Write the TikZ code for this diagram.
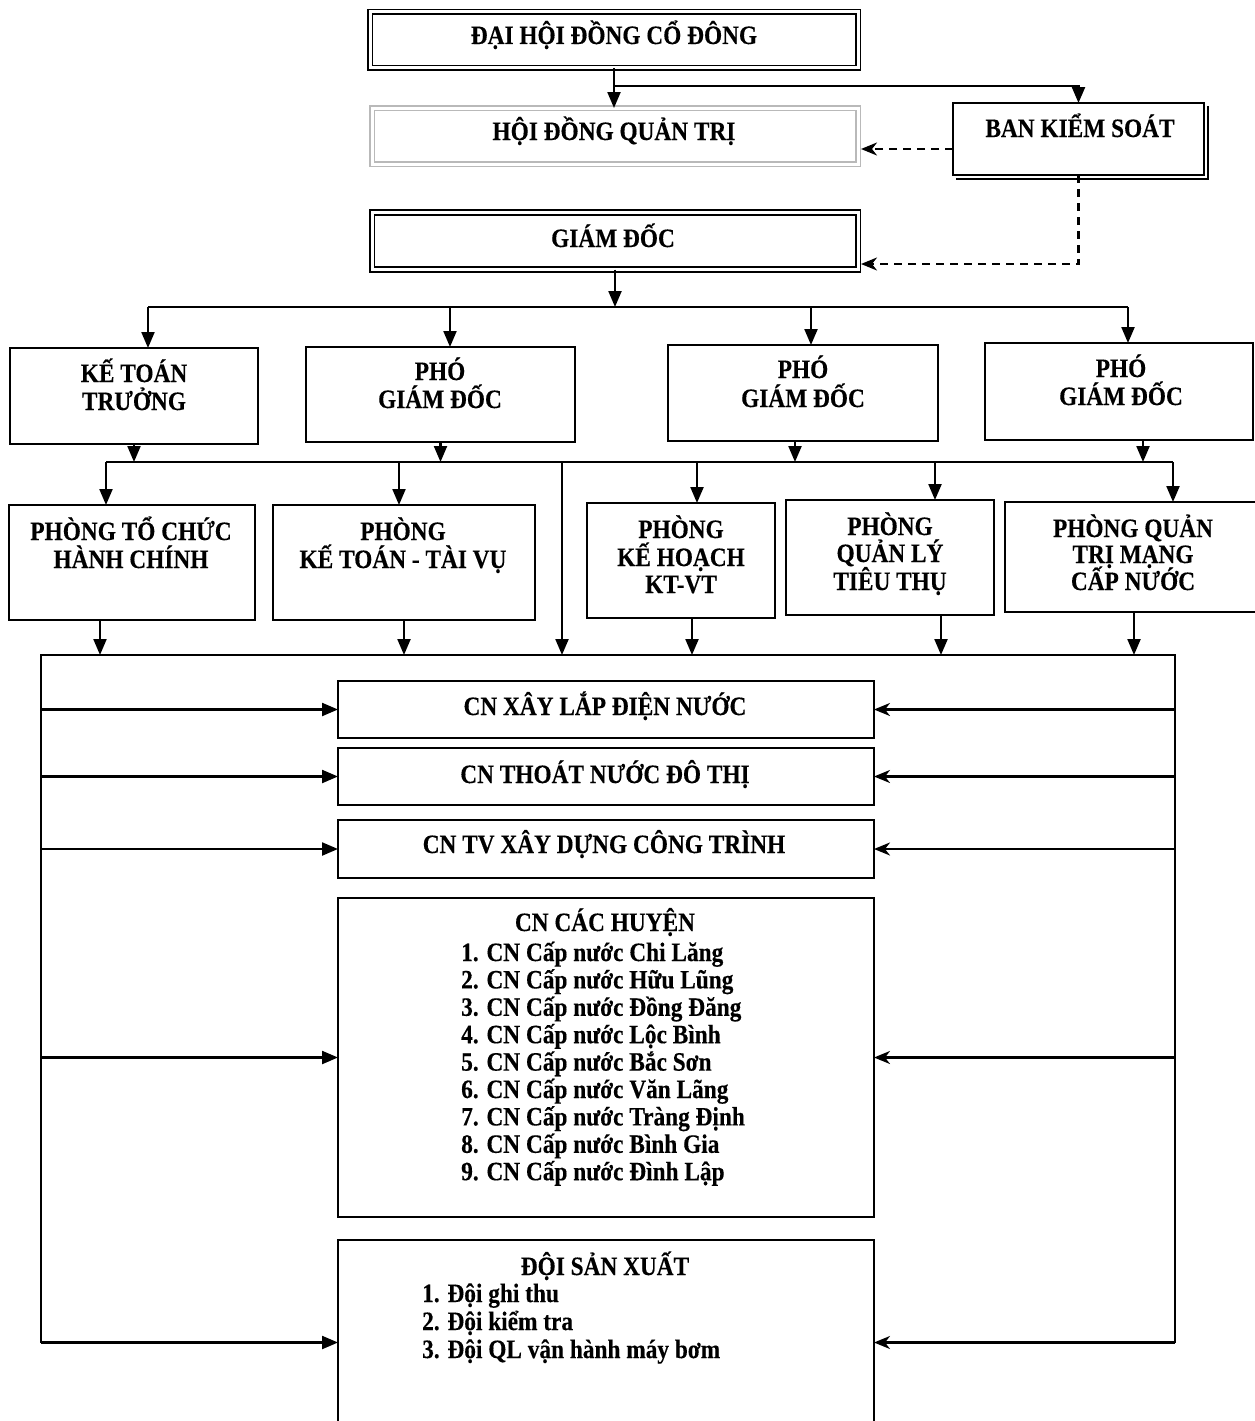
\documentclass[tikz,border=0pt]{standalone}
\usepackage{fontspec}
\setmainfont{Liberation Serif}[FakeStretch=0.88,FakeBold=0.3]
\usetikzlibrary{arrows.meta,calc}
\begin{document}
\begin{tikzpicture}[x=1pt,y=-1pt,
  ln/.style={line width=2.2pt},
  arr/.style={line width=2.2pt,-{Triangle[length=16pt,width=13pt]}},
  arrs/.style={line width=2.2pt,-{Stealth[length=16pt,width=13pt,inset=5pt]}},
  darr/.style={line width=2.2pt,dash pattern=on 8pt off 6pt,-{Stealth[length=16pt,width=13pt,inset=5pt]}},
  box/.style={draw,line width=2.4pt,inner sep=0pt,outer sep=0pt},
  dbox/.style={draw,double=white,double distance=3pt,line width=1.6pt,inner sep=0pt,outer sep=0pt},
  t/.style={font=\fontsize{26.5}{28}\selectfont\bfseries,inner sep=0pt,anchor=base},
  tl/.style={t,anchor=base west}]
\useasboundingbox (0,0) rectangle (1255,1421);
\clip (0,0) rectangle (1255,1421);
\fill[white] (0,0) rectangle (1255,1421);

% ---------- boxes ----------
\node[dbox,minimum width=488pt,minimum height=56pt] (dhd) at (614,40) {};
\node[dbox,draw=gray!55,minimum width=486pt,minimum height=56pt] (hdqt) at (615,136) {};
\node[box,minimum width=251pt,minimum height=72pt] (bks) at (1078.5,139) {};
\draw[line width=1.4pt] ($(bks.north east)+(4,3)$) -- ($(bks.south east)+(4,4)$) -- ($(bks.south west)+(3,4)$);
\node[dbox,minimum width=486pt,minimum height=57pt] (gd) at (615,241) {};

\node[box,minimum width=248pt,minimum height=96pt] (ktt) at (134,396) {};
\node[box,minimum width=269pt,minimum height=95pt] (pgd1) at (440.5,394.5) {};
\node[box,minimum width=270pt,minimum height=96pt] (pgd2) at (803,393) {};
\node[box,minimum width=268pt,minimum height=97pt] (pgd3) at (1119,391.5) {};

\node[box,minimum width=246pt,minimum height=115pt] (ptchc) at (132,562.5) {};
\node[box,minimum width=262pt,minimum height=115pt] (pkttv) at (404,562.5) {};
\node[box,minimum width=188pt,minimum height=115pt] (pkh) at (681,560.5) {};
\node[box,minimum width=208pt,minimum height=115pt] (pqltt) at (890,557.5) {};
\node[box,minimum width=258pt,minimum height=110pt] (pqtm) at (1134,557) {};

\node[box,minimum width=536pt,minimum height=57pt] (cn1) at (606,709.5) {};
\node[box,minimum width=536pt,minimum height=57pt] (cn2) at (606,776.5) {};
\node[box,minimum width=536pt,minimum height=58pt] (cn3) at (606,849) {};
\node[box,minimum width=536pt,minimum height=319pt] (cn4) at (606,1057.5) {};
\node[box,minimum width=536pt,minimum height=205pt] (dsx) at (606,1342.5) {};

% ---------- top connectors ----------
\coordinate (j0) at (614,86);
\draw[arr] (dhd.south) -- (dhd.south |- hdqt.north);
\draw[arr] (j0) -| (bks.north);
\coordinate (d1) at (953,149);
\coordinate (hq) at (861,149);
\draw[darr] (d1) -- (hq);
\coordinate (d2) at (861,264);
\draw[darr] (bks.south) |- (d2);

\coordinate (g0) at (615,307);
\draw[arr] (gd.south) -- (g0);
\coordinate (k1) at (148,307);
\coordinate (k2) at (450,307);
\coordinate (k3) at (811,307);
\coordinate (k4) at (1128,307);
\draw[ln] (k1) -- (k4);
\foreach \k/\b in {k1/ktt,k2/pgd1,k3/pgd2,k4/pgd3}
  \draw[arr] (\k) -- (\k |- \b.north);

% ---------- second bus ----------
\coordinate (m0) at (106,462);
\coordinate (m1) at (399,462);
\coordinate (m2) at (697,462);
\coordinate (m3) at (935,462);
\coordinate (m4) at (562,462);
\coordinate (m5) at (1173,462);
\draw[ln] (m0) -- (m5);
\coordinate (u3) at (795,441);
\coordinate (u4) at (1143,440);
\draw[arr] (ktt.south) -- (ktt.south |- m0);
\draw[arr] (pgd1.south) -- (pgd1.south |- m0);
\draw[arr] (u3) -- (u3 |- m0);
\draw[arr] (u4) -- (u4 |- m0);
\foreach \m/\b in {m0/ptchc,m1/pkttv,m2/pkh,m3/pqltt,m5/pqtm}
  \draw[arr] (\m) -- (\m |- \b.north);

% ---------- frame ----------
\coordinate (fTL) at (41,655);
\coordinate (fTR) at (1175,655);
\draw[ln] (fTL |- dsx.west) -- (fTL) -- (fTR) -- (fTR |- dsx.east);
\draw[arr] (m4) -- (m4 |- fTL);
\coordinate (o1) at (100,620);
\coordinate (o2) at (404,620);
\coordinate (o3) at (692,618);
\coordinate (o4) at (941,615);
\coordinate (o5) at (1134,612);
\foreach \o in {o1,o2,o3,o4,o5}
  \draw[arr] (\o) -- (\o |- fTL);
\foreach \b in {cn1,cn2,cn3,cn4,dsx}{
  \draw[arr] (fTL |- \b.west) -- (\b.west);
  \draw[arrs] (fTR |- \b.east) -- (\b.east);
}

% ---------- texts ----------
\node[t] (x1) at (614,44) {ĐẠI HỘI ĐỒNG CỔ ĐÔNG};
\node[t] (x2) at (614,140) {HỘI ĐỒNG QUẢN TRỊ};
\node[t] (x3) at (613,247) {GIÁM ĐỐC};
\node[t] (x4) at (1080,137) {BAN KIỂM SOÁT};

\node[t] (x5a) at (134,382) {KẾ TOÁN};
\node[t] (x5b) at (134,410) {TRƯỞNG};
\node[t] (x6a) at (440,380) {PHÓ};
\node[t] (x6b) at (440,408) {GIÁM ĐỐC};
\node[t] (x7a) at (803,378) {PHÓ};
\node[t] (x7b) at (803,407) {GIÁM ĐỐC};
\node[t] (x8a) at (1121,377) {PHÓ};
\node[t] (x8b) at (1121,405) {GIÁM ĐỐC};

\node[t] (x9a) at (131,540) {PHÒNG TỔ CHỨC};
\node[t] (x9b) at (131,568) {HÀNH CHÍNH};
\node[t] (x10a) at (403,540) {PHÒNG};
\node[t] (x10b) at (403,568) {KẾ TOÁN - TÀI VỤ};
\node[t] (x11a) at (681,538) {PHÒNG};
\node[t] (x11b) at (681,566) {KẾ HOẠCH};
\node[t] (x11c) at (681,593) {KT-VT};
\node[t] (x12a) at (890,535) {PHÒNG};
\node[t] (x12b) at (890,562) {QUẢN LÝ};
\node[t] (x12c) at (890,590) {TIÊU THỤ};
\node[t] (x13a) at (1133,537) {PHÒNG QUẢN};
\node[t] (x13b) at (1133,563) {TRỊ MẠNG};
\node[t] (x13c) at (1133,590) {CẤP NƯỚC};

\node[t] (x14) at (605,715) {CN XÂY LẮP ĐIỆN NƯỚC};
\node[t] (x15) at (605,783) {CN THOÁT NƯỚC ĐÔ THỊ};
\node[t] (x16) at (604,853) {CN TV XÂY DỰNG CÔNG TRÌNH};
\node[t] (x17) at (605,931) {CN CÁC HUYỆN};
\foreach \i/\s in {1/Chi Lăng,2/Hữu Lũng,3/Đồng Đăng,4/Lộc Bình,5/Bắc Sơn,6/Văn Lãng,7/Tràng Định,8/Bình Gia,9/Đình Lập}
  \node[tl] (h\i) at (461,{961+(\i-1)*27.4}) {\i. CN Cấp nước \s};

\node[t] (x18) at (605,1275) {ĐỘI SẢN XUẤT};
\node[tl] (s1) at (422,1302) {1. Đội ghi thu};
\node[tl] (s2) at (422,1330) {2. Đội kiểm tra};
\node[tl] (s3) at (422,1358) {3. Đội QL vận hành máy bơm};
\end{tikzpicture}
\end{document}
